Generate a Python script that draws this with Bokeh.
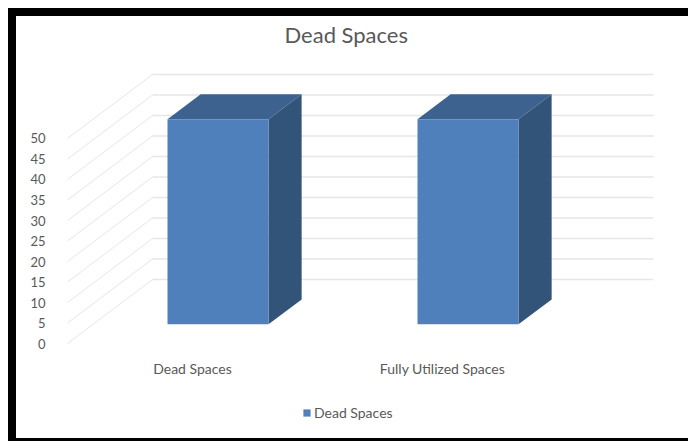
from bokeh.embed import file_html
from bokeh.layouts import column
from bokeh.models import FixedTicker, InlineStyleSheet, Legend, LegendItem, Range1d, Title
from bokeh.plotting import figure
from bokeh.resources import INLINE

# Chart data
chart_title = "Dead Spaces"
series_name = "Dead Spaces"
categories = ["Dead Spaces", "Fully Utilized Spaces"]
values = [50, 50]
value_ticks = [0, 5, 10, 15, 20, 25, 30, 35, 40, 45, 50]

# Oblique projection of the 3D column chart: a point at depth d (0 = front
# of the floor, 1 = back wall) is shifted right and up by these amounts.
DEPTH_X = 0.34
DEPTH_Y = 15.6
BAR_NEAR, BAR_FAR = 0.30, 0.69
BAR_HALF = 0.202
FLOOR_LEFT, FLOOR_RIGHT = -0.5, 1.504

GRID = "#e6e6e6"
TEXT = "#595959"
FONT = "Lato"
FRONT, TOP, SIDE = "#4f80bc", "#3e628f", "#335479"

p = figure(
    frame_width=633, frame_height=294, output_backend="svg", toolbar_location=None,
    x_range=Range1d(-0.548, 1.984), y_range=Range1d(-1.46, 70.24),
    min_border_left=55, min_border_right=0, min_border_top=55, min_border_bottom=40,
    outline_line_color=None, background_fill_color="white", border_fill_color="white",
    x_axis_location="below", y_axis_location="left",
)
p.grid.visible = False

# Axes
yaxis = p.yaxis[0]
yaxis.ticker = FixedTicker(ticks=value_ticks)
yaxis.axis_line_color = None
yaxis.major_tick_line_color = None
yaxis.minor_tick_line_color = None
yaxis.major_label_standoff = 4
yaxis.major_label_text_color = TEXT
yaxis.major_label_text_font = FONT
yaxis.major_label_text_font_size = "13px"

xaxis = p.xaxis[0]
xaxis.ticker = FixedTicker(ticks=list(range(len(categories))))
xaxis.major_label_overrides = {i: c for i, c in enumerate(categories)}
xaxis.axis_line_color = None
xaxis.major_tick_line_color = None
xaxis.minor_tick_line_color = None
xaxis.major_label_standoff = 4
xaxis.major_label_text_color = TEXT
xaxis.major_label_text_font = FONT
xaxis.major_label_text_font_size = "14px"
xaxis.major_label_orientation = "horizontal"

# Side wall and back wall gridlines
for v in value_ticks:
    p.line([FLOOR_LEFT, FLOOR_LEFT + DEPTH_X], [v, v + DEPTH_Y], line_color=GRID, line_width=1)
    p.line([FLOOR_LEFT + DEPTH_X, FLOOR_RIGHT + DEPTH_X], [v + DEPTH_Y, v + DEPTH_Y],
           line_color=GRID, line_width=1.5)

# Columns: front, top and side faces
for i, v in enumerate(values):
    xl = i - BAR_HALF + DEPTH_X * BAR_NEAR
    xr = i + BAR_HALF + DEPTH_X * BAR_NEAR
    base = DEPTH_Y * BAR_NEAR
    dx = DEPTH_X * (BAR_FAR - BAR_NEAR)
    dy = DEPTH_Y * (BAR_FAR - BAR_NEAR)
    p.patch([xl, xr, xr + dx, xl + dx], [base + v, base + v, base + v + dy, base + v + dy],
            fill_color=TOP, line_color=None)
    p.patch([xr, xr + dx, xr + dx, xr], [base, base + dy, base + v + dy, base + v],
            fill_color=SIDE, line_color=None)
    p.quad(left=xl, right=xr, bottom=base, top=base + v, fill_color=FRONT, line_color=None)

# Title
p.title = Title(text=chart_title, align="left", offset=229, text_color=TEXT, standoff=15,
                text_font=FONT, text_font_size="22px", text_font_style="normal")

# Legend strip under the chart, holding only the series key; its quad sits
# outside the strip's range so only the legend swatch shows
key = figure(
    width=688, height=52, output_backend="svg", toolbar_location=None,
    x_range=Range1d(0, 1), y_range=Range1d(0, 1),
    x_axis_location=None, y_axis_location=None, min_border=0,
    outline_line_color=None, background_fill_color="white", border_fill_color="white",
)
key.grid.visible = False
swatch = key.quad(left=[2], right=[3], bottom=[2], top=[3], fill_color=FRONT, line_color=None)
legend = Legend(
    items=[LegendItem(label=series_name, renderers=[swatch])],
    location=(247, 20), orientation="horizontal", border_line_color=None,
    background_fill_alpha=0, glyph_width=9, glyph_height=9, label_standoff=3,
    label_text_font=FONT, label_text_font_size="14px", label_text_color=TEXT,
    margin=0, padding=0,
)
key.add_layout(legend, "center")

page = column(p, key, spacing=0)

# Heavy rule around the chart area, open on the right
page.stylesheets = [InlineStyleSheet(css="""
:host::after {
  content: "";
  position: absolute;
  left: 8px;
  top: 8px;
  width: 680px;
  height: 433px;
  box-sizing: border-box;
  border-left: 8px solid #000;
  border-top: 8px solid #000;
  border-bottom: 3px solid #000;
  pointer-events: none;
  z-index: 10;
}
""")]

open("out.html", "w").write(file_html(page, INLINE))
